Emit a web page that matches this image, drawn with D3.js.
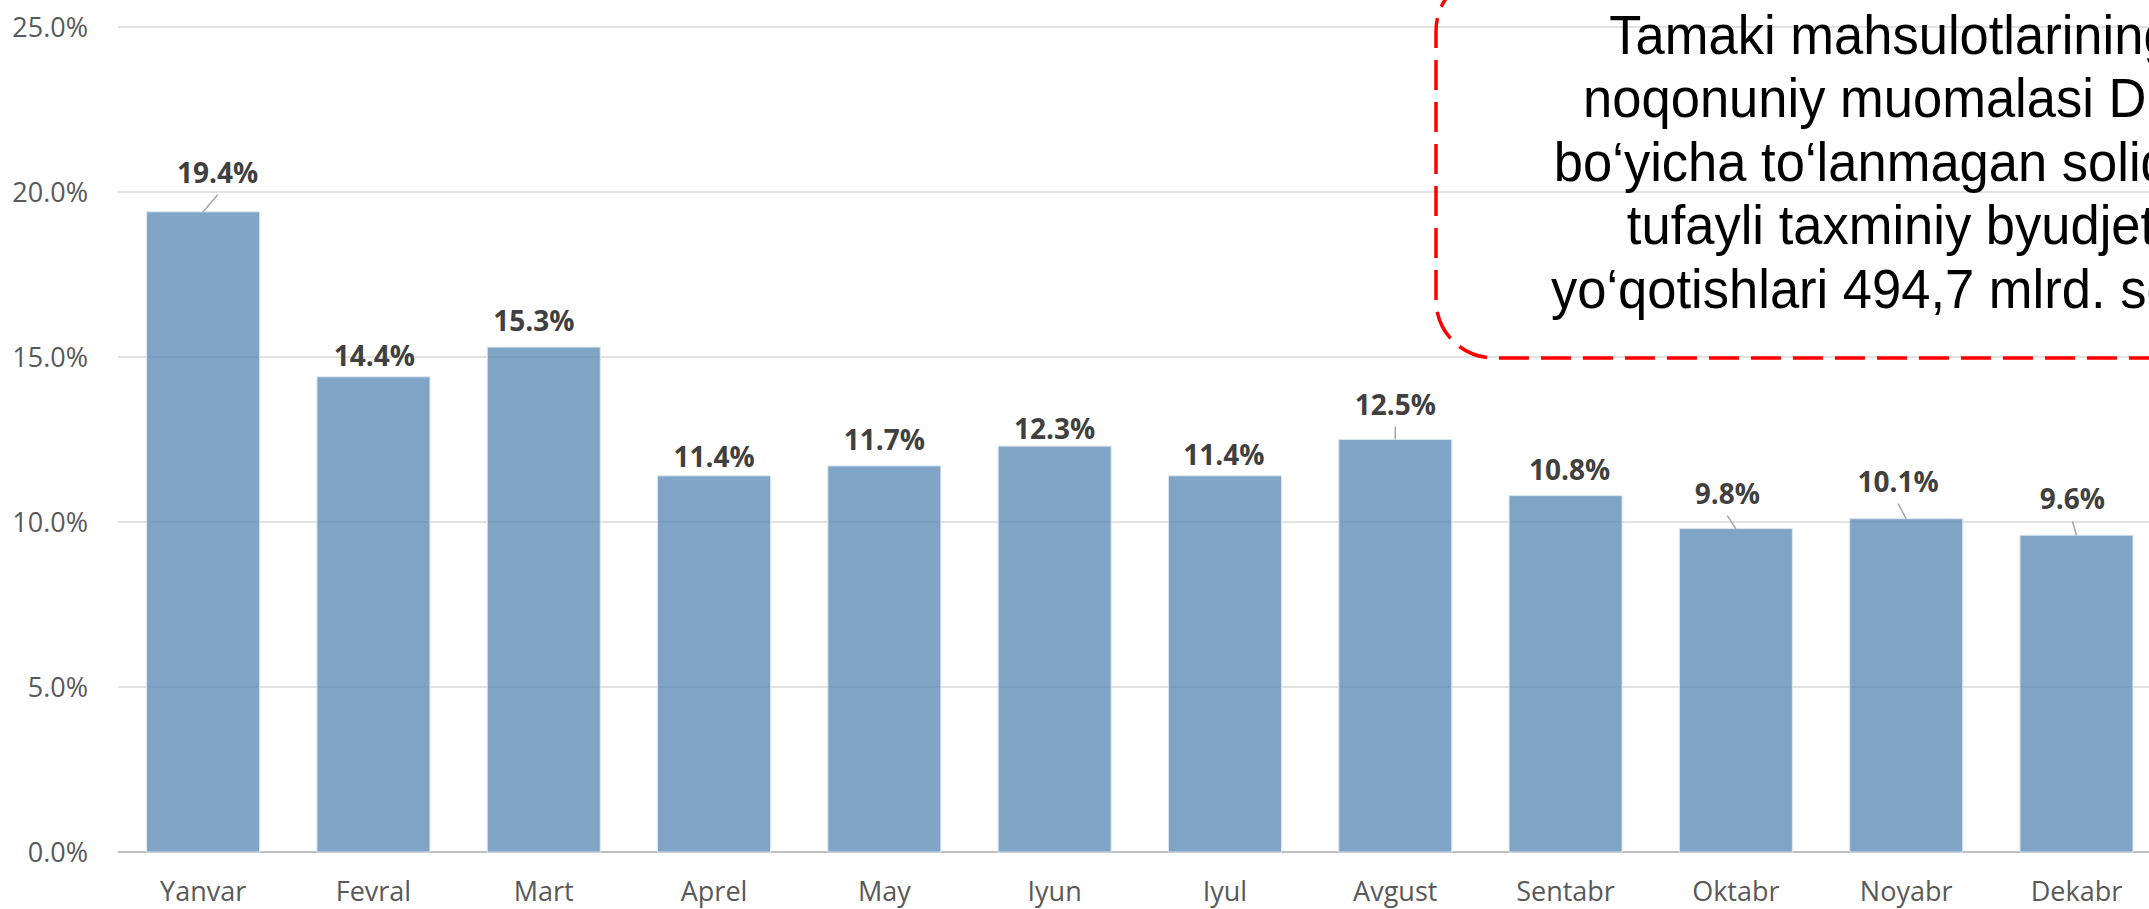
<!DOCTYPE html>
<html>
<head>
<meta charset="utf-8">
<script src="https://cdn.jsdelivr.net/npm/d3@7/dist/d3.min.js"></script>
<style>
    html, body { margin: 0; padding: 0; background: #fff; overflow: hidden; }
    svg { display: block; }
    .tick-label { font-family: "Open Sans", sans-serif; font-size: 27px; fill: #595959; }
    .bar-label { font-family: "Open Sans", sans-serif; font-size: 28px; font-weight: 700; fill: #404040; }
    .note { font-family: "Liberation Sans", Arial, sans-serif; font-size: 55px; fill: #000; }
</style>
</head>
<body>
<svg id="chart"></svg>
<script>
// Chart data
const months = ['Yanvar', 'Fevral', 'Mart', 'Aprel', 'May', 'Iyun',
    'Iyul', 'Avgust', 'Sentabr', 'Oktabr', 'Noyabr', 'Dekabr'];
const shares = [19.4, 14.4, 15.3, 11.4, 11.7, 12.3, 11.4, 12.5, 10.8, 9.8, 10.1, 9.6];
const yTicks = [0, 5, 10, 15, 20, 25];
const noteLines = [
    'Tamaki mahsulotlarining',
    'noqonuniy muomalasi DID',
    'bo\u2018yicha to\u2018lanmagan soliqlar',
    'tufayli taxminiy byudjet',
    'yo\u2018qotishlari 494,7 mlrd. so\u2018m'
];

// Hand-placed label nudges (dx, dy from bar top, leader line?)
const labelNudge = [
    [14.5, -29, true], [1, -11, false], [-10, -16, false], [0, -9, false],
    [0, -16, false], [0, -7, false], [-1, -11, false], [0, -25, true],
    [4, -16, false], [-8.5, -25, true], [-8, -27, true], [-4, -26, true]
];

const W = 2149, H = 909;
const PLOT = { left: 118, right: 2161.6, top: 27, bottom: 852 };

const svg = d3.select('#chart').attr('width', W).attr('height', H);

const x = d3.scaleBand()
    .domain(months)
    .range([PLOT.left, PLOT.right])
    .paddingInner(0.3364)
    .paddingOuter(0.1682);

const y = d3.scaleLinear()
    .domain([0, 25])
    .range([PLOT.bottom, PLOT.top]);

// Gridlines
svg.append('g')
    .selectAll('line')
    .data(yTicks)
    .join('line')
    .attr('x1', PLOT.left)
    .attr('x2', W)
    .attr('y1', d => y(d))
    .attr('y2', d => y(d))
    .attr('stroke', d => d === 0 ? '#bfbfbf' : '#d9d9d9')
    .attr('stroke-width', d => d === 0 ? 2 : 1.5);

// Y axis labels
const yAxis = svg.append('g')
    .attr('transform', `translate(${PLOT.left - 30},0)`)
    .call(d3.axisLeft(y).tickValues(yTicks).tickSize(0).tickPadding(0)
        .tickFormat(d => d.toFixed(1) + '%'));
yAxis.select('.domain').remove();
yAxis.selectAll('text')
    .attr('class', 'tick-label')
    .attr('dy', '0.36em')
    .attr('font-family', null)
    .attr('font-size', null);

// X axis labels
const xAxis = svg.append('g')
    .attr('transform', `translate(0,${PLOT.bottom})`)
    .call(d3.axisBottom(x).tickSize(0).tickPadding(0));
xAxis.select('.domain').remove();
xAxis.selectAll('text')
    .attr('class', 'tick-label')
    .attr('y', 49)
    .attr('dy', 0)
    .attr('font-family', null)
    .attr('font-size', null);

// Bars
svg.append('g')
    .selectAll('rect')
    .data(shares)
    .join('rect')
    .attr('x', (d, i) => x(months[i]))
    .attr('y', d => y(d))
    .attr('width', x.bandwidth())
    .attr('height', d => y(0) - y(d))
    .attr('fill', '#5686b3')
    .attr('fill-opacity', 0.75)
    .attr('stroke', '#dce6f1')
    .attr('stroke-width', 1);

// Leader lines for moved labels
const cx = i => x(months[i]) + x.bandwidth() / 2;
svg.append('g')
    .selectAll('line')
    .data(shares.map((v, i) => ({ v, i })).filter(d => labelNudge[d.i][2]))
    .join('line')
    .attr('x1', d => cx(d.i) + labelNudge[d.i][0])
    .attr('y1', d => y(d.v) + labelNudge[d.i][1] + 12)
    .attr('x2', d => cx(d.i))
    .attr('y2', d => y(d.v))
    .attr('stroke', '#a6a6a6')
    .attr('stroke-width', 1.5);

// Value labels
svg.append('g')
    .selectAll('text')
    .data(shares)
    .join('text')
    .attr('class', 'bar-label')
    .attr('text-anchor', 'middle')
    .attr('x', (d, i) => cx(i) + labelNudge[i][0])
    .attr('y', (d, i) => y(d) + labelNudge[i][1])
    .text(d => d.toFixed(1) + '%');

// Annotation box (runs off the top and right edges)
svg.append('rect')
    .attr('x', 1436)
    .attr('y', -27)
    .attr('width', 1000)
    .attr('height', 385)
    .attr('rx', 58)
    .attr('fill', 'none')
    .attr('stroke', '#ff0000')
    .attr('stroke-width', 3.5)
    .attr('stroke-dasharray', '30,12');

svg.append('g')
    .attr('transform', 'translate(1891,0) scale(0.955,1)')
    .selectAll('text')
    .data(noteLines)
    .join('text')
    .attr('class', 'note')
    .attr('text-anchor', 'middle')
    .attr('x', 0)
    .attr('y', (d, i) => 54 + i * 63.5)
    .text(d => d);
</script>
</body>
</html>
